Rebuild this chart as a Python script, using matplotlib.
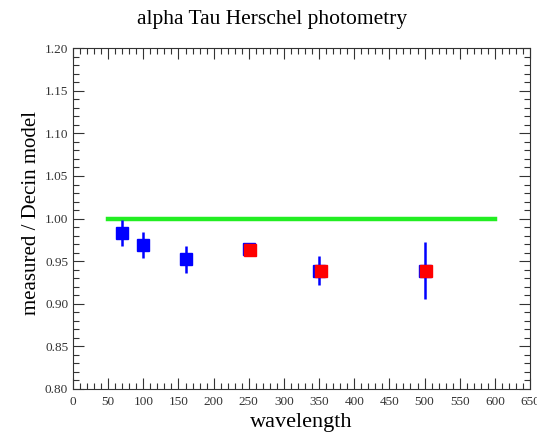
import matplotlib
matplotlib.use('Agg')
from matplotlib import pyplot as plt
from matplotlib.ticker import MultipleLocator

# data
wl_blue = [70, 100, 160, 250, 350, 500]
ratio_blue = [0.983, 0.969, 0.952, 0.964, 0.939, 0.939]
err_blue = [0.015, 0.015, 0.016, 0.0, 0.017, 0.033]

wl_red = [252, 352, 502]
ratio_red = [0.963, 0.938, 0.938]

model_x = [50, 600]
model_y = [1.0, 1.0]

plt.rcParams['font.family'] = ['Liberation Serif', 'DejaVu Serif']

fig = plt.figure(figsize=(5.37, 4.34), dpi=100)
ax = fig.add_axes([0.136, 0.1037, 0.851, 0.7853])

ax.plot(model_x, model_y, color='#22ee22', lw=3.2, zorder=2)
ax.errorbar(wl_blue, ratio_blue, yerr=err_blue, fmt='s', color='blue',
            ms=8.5, elinewidth=1.8, capsize=0, zorder=3)
ax.plot(wl_red, ratio_red, 's', color='red', ms=8.5, zorder=4)

ax.set_xlim(0, 650)
ax.set_ylim(0.80, 1.20)
ax.xaxis.set_major_locator(MultipleLocator(50))
ax.xaxis.set_minor_locator(MultipleLocator(10))
ax.yaxis.set_major_locator(MultipleLocator(0.05))
ax.yaxis.set_minor_locator(MultipleLocator(0.01))
ax.yaxis.set_major_formatter(matplotlib.ticker.FormatStrFormatter('%.2f'))
ax.tick_params(which='both', direction='in', top=True, right=True,
               labelsize=9.5, colors='#333333')
ax.tick_params(axis='x', pad=5)
ax.tick_params(which='major', length=8, width=0.8)
ax.tick_params(which='minor', length=4.5, width=0.8)
for s in ax.spines.values():
    s.set_color('#333333')
    s.set_linewidth(0.8)

ax.set_xlabel('wavelength', fontsize=16, labelpad=4)
ax.set_ylabel('measured / Decin model', fontsize=15, labelpad=3)
ax.yaxis.label.set_y(0.516)
fig.text(0.507, 0.955, 'alpha Tau Herschel photometry', fontsize=15.5,
         ha='center', va='center')

fig.savefig('out.png', dpi=100)
